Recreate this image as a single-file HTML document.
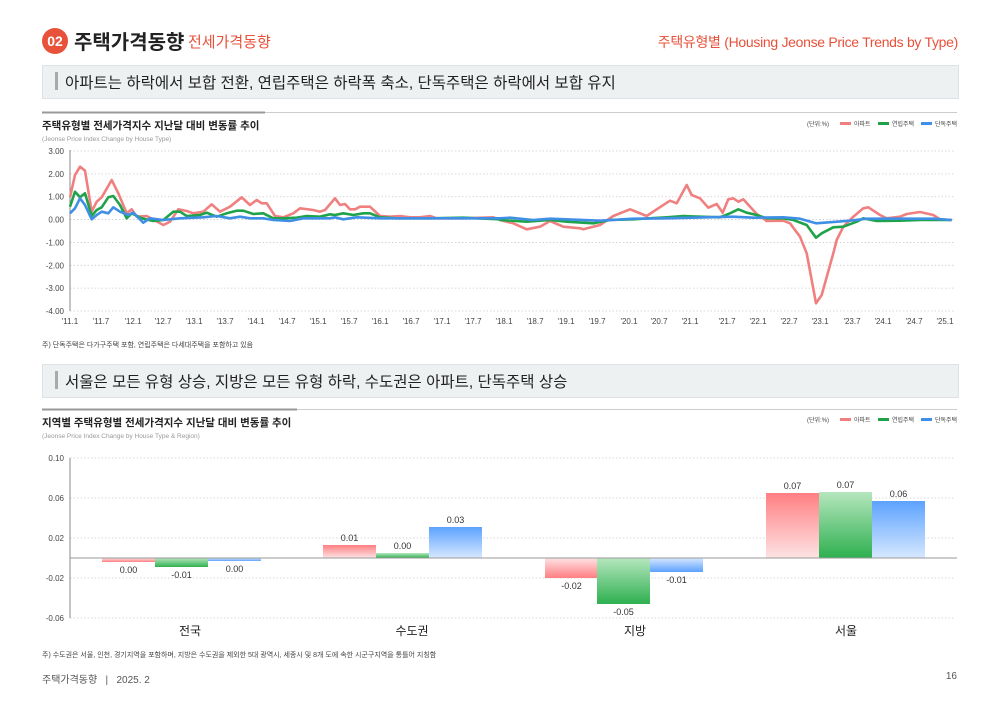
<!DOCTYPE html>
<html><head><meta charset="utf-8">
<style>
body{margin:0;width:1000px;height:707px;background:#fff;font-family:"Liberation Sans","Noto Sans CJK KR",sans-serif;position:relative;overflow:hidden}
.a{position:absolute;white-space:nowrap}
</style></head><body>
<div class="a" style="left:42px;top:28px;width:26px;height:26px;border-radius:13px;background:#e8513a;color:#fff;font-size:14px;font-weight:bold;line-height:26px;text-align:center">02</div>
<div class="a" style="left:74px;top:26px;font-size:20px;font-weight:bold;color:#222">주택가격동향</div>
<div class="a" style="left:188px;top:31px;font-size:15px;color:#e8513a">전세가격동향</div>
<div class="a" style="right:42px;top:32px;font-size:14px;color:#e8513a;letter-spacing:-0.3px">주택유형별 (Housing Jeonse Price Trends by Type)</div>
<div class="a" style="left:42px;top:65px;width:915px;height:32px;background:#eef1f2;border:1px solid #dde2e4"></div>
<div class="a" style="left:55px;top:72px;width:3px;height:18px;background:#aaa"></div>
<div class="a" style="left:65px;top:71px;font-size:15.5px;color:#222">아파트는 하락에서 보합 전환, 연립주택은 하락폭 축소, 단독주택은 하락에서 보합 유지</div>
<div class="a" style="left:42px;top:364px;width:915px;height:32px;background:#eef1f2;border:1px solid #dde2e4"></div>
<div class="a" style="left:55px;top:371px;width:3px;height:18px;background:#aaa"></div>
<div class="a" style="left:65px;top:370px;font-size:15.5px;color:#222">서울은 모든 유형 상승, 지방은 모든 유형 하락, 수도권은 아파트, 단독주택 상승</div>
<div class="a" style="left:42px;top:340px;font-size:7px;color:#444">주) 단독주택은 다가구주택 포함, 연립주택은 다세대주택을 포함하고 있음</div>
<div class="a" style="left:42px;top:650px;font-size:7px;color:#444">주) 수도권은 서울, 인천, 경기지역을 포함하며, 지방은 수도권을 제외한 5대 광역시, 세종시 및 8개 도에 속한 시군구지역을 통틀어 지칭함</div>
<div class="a" style="left:42px;top:671px;font-size:10px;color:#555">주택가격동향 &nbsp;&nbsp;| &nbsp;&nbsp;2025. 2</div>
<div class="a" style="right:43px;top:671px;font-size:10px;color:#555">16</div>

<svg class="a" style="left:0;top:0" width="1000" height="707" id="s">
<line x1="42" y1="112.5" x2="957" y2="112.5" stroke="#ccc"/><line x1="42" y1="112.5" x2="265" y2="112.5" stroke="#999" stroke-width="2"/>
<line x1="42" y1="409.5" x2="957" y2="409.5" stroke="#ccc"/><line x1="42" y1="409.5" x2="297" y2="409.5" stroke="#999" stroke-width="2"/>
<text x="42" y="129" font-size="10.5" font-weight="bold" fill="#222">주택유형별 전세가격지수 지난달 대비 변동률 추이</text>
<text x="42" y="141" font-size="6.5" fill="#999">(Jeonse Price Index Change by House Type)</text>
<text x="42" y="426" font-size="10.5" font-weight="bold" fill="#222">지역별 주택유형별 전세가격지수 지난달 대비 변동률 추이</text>
<text x="42" y="438" font-size="6.5" fill="#999">(Jeonse Price Index Change by House Type &amp; Region)</text>
<g id="g1"></g><g id="g2"></g>
<defs>
<linearGradient id="rd" x1="0" y1="0" x2="0" y2="1"><stop offset="0" stop-color="#ff7f82"/><stop offset="1" stop-color="#fde3e4"/></linearGradient>
<linearGradient id="ru" x1="0" y1="1" x2="0" y2="0"><stop offset="0" stop-color="#ff7f82"/><stop offset="1" stop-color="#fde3e4"/></linearGradient>
<linearGradient id="gu" x1="0" y1="1" x2="0" y2="0"><stop offset="0" stop-color="#2eb04f"/><stop offset="1" stop-color="#b5e6be"/></linearGradient>
<linearGradient id="bd" x1="0" y1="0" x2="0" y2="1"><stop offset="0" stop-color="#5da2ff"/><stop offset="1" stop-color="#d6e8ff"/></linearGradient>
<linearGradient id="bu" x1="0" y1="1" x2="0" y2="0"><stop offset="0" stop-color="#5da2ff"/><stop offset="1" stop-color="#d6e8ff"/></linearGradient>
</defs>
</svg>
<script>
var NS="http://www.w3.org/2000/svg";
function el(p,t,a,txt){var e=document.createElementNS(NS,t);for(var k in a)e.setAttribute(k,a[k]);if(txt!=null)e.textContent=txt;p.appendChild(e);return e;}
var g1=document.getElementById('g1'),g2=document.getElementById('g2');
var yl=["3.00","2.00","1.00","0.00","-1.00","-2.00","-3.00","-4.00"];
for(var i=0;i<8;i++){var y=151+i*22.86;el(g1,'line',{x1:70,x2:955,y1:y,y2:y,stroke:'#ccc','stroke-dasharray':'1.5,2','stroke-width':0.8});el(g1,'text',{x:64,y:y+3,'font-size':8,fill:'#444','text-anchor':'end'},yl[i]);}
el(g1,'line',{x1:70,x2:70,y1:150,y2:311,stroke:'#888'});
var xl=["'11.1","'11.7","'12.1","'12.7","'13.1","'13.7","'14.1","'14.7","'15.1","'15.7","'16.1","'16.7","'17.1","'17.7","'18.1","'18.7","'19.1","'19.7","'20.1","'20.7","'21.1","","'21.7","'22.1","'22.7","'23.1","'23.7","'24.1","'24.7","'25.1"];
var xs=[70,101,133,163,194,225,256,287,318,349,380,411,442,473,504,535,566,597,629,659,690,0,727,758,789,820,852,883,914,945];
for(var i=0;i<xl.length;i++){if(xl[i])el(g1,'text',{x:xs[i],y:324,'font-size':8,fill:'#444','text-anchor':'middle'},xl[i]);}
function P(a,ox,oy){var s=[];for(var i=0;i<a.length;i+=2)s.push((ox+a[i]/3).toFixed(1)+','+(oy+a[i+1]/3).toFixed(1));return s.join(' ');}
function line(z1,z2,c){el(g1,'polyline',{points:P(z1,30,110)+' '+P(z2,500,110),fill:'none',stroke:c,'stroke-width':2.6,'stroke-linejoin':'round'});}
var aZ1=[120,262,135,195,150,170,165,182,185,305,200,275,215,262,245,210,265,250,290,310,305,298,320,320,350,318,400,345,420,335,445,298,470,303,490,310,520,305,545,283,570,305,600,290,635,262,660,285,680,270,695,280,710,280,735,318,760,322,790,310,810,295,850,300,870,305,885,300,915,265,930,285,945,282,960,298,975,298,990,290,1020,290,1050,318,1080,320,1110,318,1140,322,1170,322,1200,318,1220,325,1250,325,1300,325,1390,322,1410,330];
var aZ2=[0,330,40,340,80,358,120,350,150,333,190,350,240,355,250,358,300,345,340,318,390,298,440,318,470,298,510,272,530,280,560,225,575,255,600,265,625,293,650,282,668,308,685,268,700,265,715,275,730,268,770,312,800,333,850,332,870,340,900,380,920,430,948,580,965,555,1000,430,1010,390,1030,350,1060,320,1090,295,1105,292,1140,315,1160,325,1200,320,1220,312,1260,306,1300,315,1320,328,1355,330];
var gZ1=[120,290,135,245,150,262,165,250,185,318,200,300,215,292,235,262,250,258,270,285,290,325,305,310,335,325,370,333,400,330,430,305,450,305,470,318,510,315,530,308,560,320,590,310,620,302,640,302,670,312,700,310,730,325,760,325,800,323,830,318,870,320,900,313,915,315,940,310,970,315,1000,310,1020,310,1050,322,1100,325,1200,325,1300,323,1410,328];
var gZ2=[0,330,80,335,150,330,200,335,280,340,330,330,400,328,500,322,550,318,600,320,660,322,690,310,715,298,740,308,770,315,800,325,850,325,880,330,920,345,948,383,965,370,1000,352,1030,350,1070,335,1090,325,1130,333,1200,332,1260,330,1355,330];
var bZ1=[120,310,135,295,150,265,165,285,185,328,200,315,215,305,235,310,250,292,270,305,295,315,310,308,340,338,360,325,400,330,450,325,520,322,560,318,600,325,630,320,660,325,700,325,730,330,780,333,820,325,900,325,915,322,940,328,980,322,1050,325,1410,325];
var bZ2=[0,325,30,323,100,330,150,326,300,332,400,326,500,325,700,320,760,323,850,322,900,326,948,340,1050,332,1100,326,1300,326,1355,330];
line(aZ1,aZ2,'#f08080');line(gZ1,gZ2,'#1fa34a');line(bZ1,bZ2,'#3f8fe6');
function legend(g,y){el(g,'text',{x:807,y:y+3,'font-size':6,fill:'#444'},'(단위:%)');
var L=[[840,'#f08080','아파트'],[878,'#1fa34a','연립주택'],[921,'#3f8fe6','단독주택']];
L.forEach(function(l){el(g,'rect',{x:l[0],y:y-1,width:11,height:3,fill:l[1]});el(g,'text',{x:l[0]+14,y:y+3,'font-size':6,fill:'#444'},l[2]);});}
legend(g1,123);legend(g2,419);
var yl2=["0.10","0.06","0.02","-0.02","-0.06"];
for(var i=0;i<5;i++){var y=458+i*40;el(g2,'line',{x1:70,x2:955,y1:y,y2:y,stroke:'#ccc','stroke-dasharray':'1.5,2','stroke-width':0.8});el(g2,'text',{x:64,y:y+3,'font-size':8,fill:'#444','text-anchor':'end'},yl2[i]);}
el(g2,'line',{x1:70,x2:70,y1:458,y2:618,stroke:'#888'});
var bars=[[102,562,'ru','0.00'],[155,567,'gu','-0.01'],[208,561,'bu','0.00'],[323,545,'rd','0.01'],[376,553,'gu','0.00'],[429,527,'bd','0.03'],[545,578,'ru','-0.02'],[597,604,'gu','-0.05'],[650,572,'bu','-0.01'],[766,493,'rd','0.07'],[819,492,'gu','0.07'],[872,501,'bd','0.06']];
bars.forEach(function(b){var t=Math.min(b[1],558),h=Math.abs(b[1]-558);el(g2,'rect',{x:b[0],y:t,width:53,height:h,fill:'url(#'+b[2]+')'});
var ly=b[1]>558?b[1]+11:b[1]-4;el(g2,'text',{x:b[0]+26.5,y:ly,'font-size':9,fill:'#333','text-anchor':'middle'},b[3]);});
el(g2,'line',{x1:70,x2:957,y1:558,y2:558,stroke:'#999'});
[["전국",190],["수도권",412],["지방",635],["서울",846]].forEach(function(c){el(g2,'text',{x:c[1],y:635,'font-size':12,fill:'#222','text-anchor':'middle'},c[0]);});
</script>
</body></html>
